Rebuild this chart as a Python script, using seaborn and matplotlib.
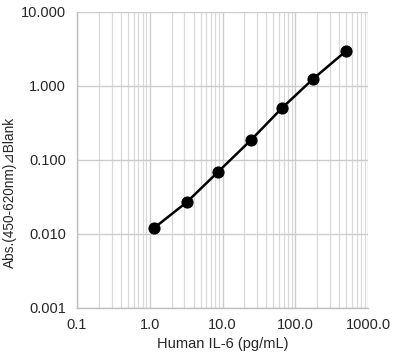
import numpy as np
import pandas as pd
import matplotlib
matplotlib.use("Agg")
import matplotlib.pyplot as plt
import seaborn as sns
from matplotlib.ticker import LogLocator, FuncFormatter, NullFormatter

# standard curve values
conc = [1.14, 3.25, 8.67, 24.6, 65.8, 175.0, 499.0]
absorb = [0.0120, 0.0271, 0.0689, 0.186, 0.504, 1.24, 2.97]

df = pd.DataFrame({"conc": conc, "abs": absorb})

sns.set_style("white")
plt.rcParams['font.family'] = ['Liberation Sans', 'DejaVu Sans']

fig = plt.figure(figsize=(4.0, 3.58), dpi=100)
ax = fig.add_axes([0.1925, 0.1397, 0.7275, 0.8268])

sns.lineplot(data=df, x="conc", y="abs", ax=ax, color="black", linewidth=1.8,
             marker="o", markersize=8, markeredgecolor="black", zorder=3)

ax.set_xscale("log")
ax.set_yscale("log")
ax.set_xlim(0.1, 1000)
ax.set_ylim(0.001, 10)

ax.xaxis.set_major_locator(LogLocator(base=10, numticks=10))
ax.xaxis.set_minor_locator(LogLocator(base=10, subs=np.arange(2, 10), numticks=20))
ax.yaxis.set_major_locator(LogLocator(base=10, numticks=10))
ax.yaxis.set_minor_locator(plt.NullLocator())
ax.xaxis.set_major_formatter(FuncFormatter(lambda v, p: f"{v:.1f}"))
ax.xaxis.set_minor_formatter(NullFormatter())
ax.yaxis.set_major_formatter(FuncFormatter(lambda v, p: f"{v:.3f}"))

ax.grid(True, which="major", color="#cccccc", linewidth=1.0)
ax.grid(True, which="minor", axis="x", color="#d9d9d9", linewidth=0.9)

for s in ["top", "right"]:
    ax.spines[s].set_visible(False)
for s in ["left", "bottom"]:
    ax.spines[s].set_color("#bfbfbf")
    ax.spines[s].set_linewidth(1.0)

ax.tick_params(axis="both", which="both", direction="inout", colors="#bfbfbf",
               labelcolor="#262626", labelsize=10.5, length=5, width=0.8)
ax.tick_params(axis="x", which="both", pad=5)
ax.tick_params(axis="y", which="major", length=8, pad=4)

ax.set_xlabel("Human IL-6 (pg/mL)", fontsize=10.5, color="#262626", labelpad=3)
ax.set_ylabel("Abs.(450-620nm)⊿Blank", fontsize=9.8, color="#262626",
              va="center", ha="center")
ax.yaxis.set_label_coords(-0.232, 0.39)

fig.savefig("out.png", dpi=100)
